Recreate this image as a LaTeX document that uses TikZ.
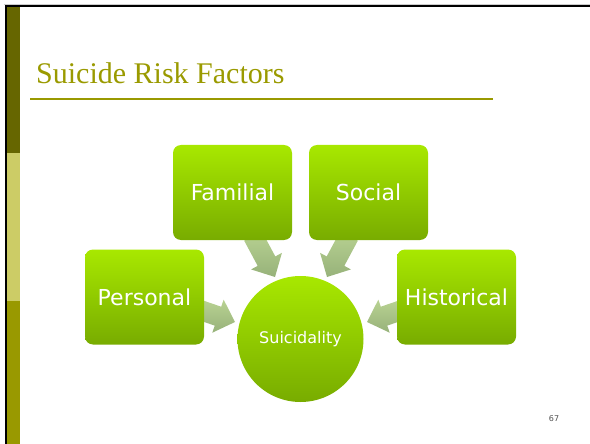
\documentclass[tikz,border=0pt]{standalone}
\usepackage{fontspec}
\setmainfont{DejaVu Sans}
\newfontfamily\titlefont{Liberation Serif}
\usetikzlibrary{calc,backgrounds}
\definecolor{olivedark}{HTML}{666600}
\definecolor{olivelight}{HTML}{CCCC66}
\definecolor{olive}{HTML}{999900}
\definecolor{titlecol}{HTML}{9A9A00}
\definecolor{limetop}{HTML}{A8E800}
\definecolor{limebot}{HTML}{78AC00}
\definecolor{arrlight}{HTML}{B8D292}
\definecolor{arrdark}{HTML}{97B27A}
\definecolor{pagegray}{HTML}{505050}
\newcommand\arrSW{10pt}
\newcommand\arrHW{17.5pt}
\newcommand\arrHL{18pt}
\newcommand\blkarrow[2]{%
  \coordinate (bh) at ($(#2)!\arrHL!(#1)$);
  \shade[arrowshade] ($(#1)!\arrSW!90:(#2)$) -- ($(bh)!\arrSW!90:(#2)$) --
    ($(bh)!\arrHW!90:(#2)$) -- (#2) -- ($(bh)!\arrHW!-90:(#2)$) --
    ($(bh)!\arrSW!-90:(#2)$) -- ($(#1)!\arrSW!-90:(#2)$) -- cycle;}
\begin{document}
\begin{tikzpicture}[x=1pt,y=-1pt,
  factor/.style={rectangle, rounded corners=8pt, minimum width=119pt, minimum height=95pt,
    top color=limetop, bottom color=limebot, text=white, font=\fontsize{22}{26}\selectfont, inner sep=0pt},
  centre/.style={circle, minimum size=126pt, top color=limetop, bottom color=limebot,
    text=white, font=\fontsize{16}{19}\selectfont, inner sep=0pt},
  arrowshade/.style={top color=arrlight, bottom color=arrdark}]
\useasboundingbox (0,0) rectangle (590,444);
% frame
\fill[gray!40] (4,4) rectangle (590,5);
\fill[black] (5,5) rectangle (590,7.3);
\fill[black] (5,5) rectangle (7.3,444);
\fill[olivedark] (7.3,7.3) rectangle (20,153);
\fill[olivelight] (7.3,153) rectangle (20,301);
\fill[olive] (7.3,301) rectangle (20,444);
% title
\node[anchor=base west, inner sep=0pt, text=titlecol, font=\titlefont\fontsize{30}{36}\selectfont] (title) at (36,84) {Suicide Risk Factors};
\fill[olive] (30,98) rectangle (493,100);
% nodes
\node[factor] (fam) at (232.5,192.5) {Familial};
\node[factor] (soc) at (368.5,192.5) {Social};
\node[factor] (per) at (144.5,297) {Personal};
\node[factor] (his) at (456.5,297) {Historical};
\node[centre] (sui) at (300.5,339) {Suicidality};
% arrow ends
\coordinate (famT) at (253,236);
\coordinate (famH) at (275,277);
\coordinate (socT) at (349,236);
\coordinate (socH) at (327,277);
\coordinate (perT) at (200,310);
\coordinate (perH) at (235,322);
\coordinate (hisT) at (402,310);
\coordinate (hisH) at (367,322);
\begin{scope}[on background layer]
\blkarrow{famT}{famH}
\blkarrow{socT}{socH}
\blkarrow{perT}{perH}
\blkarrow{hisT}{hisH}
\end{scope}
\node[text=pagegray, font=\fontsize{8}{10}\selectfont, inner sep=0pt] (pg) at (554,419) {67};
\end{tikzpicture}
\end{document}
